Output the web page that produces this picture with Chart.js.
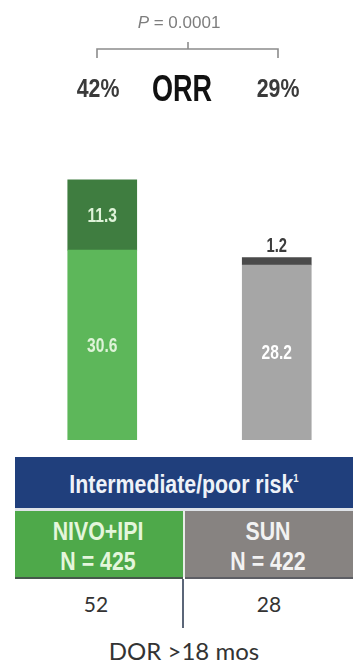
<!DOCTYPE html>
<html>
<head>
<meta charset="utf-8">
<script src="https://cdn.jsdelivr.net/npm/chart.js@4"></script>
<style>
    html, body { margin: 0; padding: 0; background: #fff; overflow: hidden; }
    body { width: 355px; height: 671px; position: relative; }
    .t { position: absolute; white-space: nowrap; line-height: 1; transform: translateX(-50%); }
    /* no narrow face installed, so squeeze the bold sans horizontally */
    .narrow { font-family: "Liberation Sans", Arial, sans-serif; font-weight: bold; transform: translateX(-50%) scaleX(0.82); }
    #chartBox { position: absolute; left: 15px; top: 0; width: 349px; height: 440px; }
    .cell { position: absolute; }
    sup { font-size: 0.45em; vertical-align: 0; position: relative; top: -0.9em; }
</style>
</head>
<body>

<div id="chartBox"><canvas id="orrChart"></canvas></div>

<!-- header: p value, bracket, ORR totals -->
<div class="t" id="pLabel" style="left:179px; top:13px; font:17px 'Liberation Sans', Arial, sans-serif; color:#7d7d7d;"></div>
<svg style="position:absolute; left:0; top:0;" width="355" height="70">
    <g stroke="#8c8c8c" stroke-width="1.6" fill="none">
        <polyline points="97,58 97,49 278,49 278,58" />
        <line x1="188" y1="42" x2="188" y2="49" />
    </g>
</svg>
<div class="t narrow" id="orrLeft" style="left:98px; top:75px; font-size:26px; color:#3a3a3a;"></div>
<div class="t narrow" style="left:182px; top:70px; font-size:33px; color:#111; transform:translateX(-50%) scaleX(0.82) scaleY(1.12); transform-origin:50% 0;">ORR</div>
<div class="t narrow" id="orrRight" style="left:278px; top:75px; font-size:26px; color:#3a3a3a;"></div>

<!-- risk group table -->
<div class="cell" style="left:15px; top:457px; width:338px; height:51px; background:#203f7c;"></div>
<div class="t narrow" style="left:184px; top:471px; font-size:26px; color:#eef2f8;">Intermediate/poor risk<sup>1</sup></div>
<div class="cell" style="left:15px; top:508px; width:338px; height:3px; background:#dfe3e8;"></div>
<div class="cell" style="left:15px; top:511px; width:168px; height:66px; background:#4ea94a; border-bottom:2px solid #44594a;"></div>
<div class="cell" style="left:183px; top:511px; width:2px; height:66px; background:#e8ece8;"></div>
<div class="cell" style="left:185px; top:511px; width:168px; height:66px; background:#878381; border-bottom:2px solid #5d5e64;"></div>
<div class="t narrow" id="armA" style="left:98px; top:518px; font-size:26px; color:#e4f6dc;"></div>
<div class="t narrow" id="nA" style="left:98px; top:548px; font-size:26px; color:#e4f6dc;"></div>
<div class="t narrow" id="armB" style="left:268px; top:518px; font-size:26px; color:#f2f2f2;"></div>
<div class="t narrow" id="nB" style="left:268px; top:548px; font-size:26px; color:#f2f2f2;"></div>
<div class="cell" style="left:182px; top:579px; width:2px; height:49px; background:#5b6678;"></div>
<div class="t" id="dorA" style="left:96px; top:591px; font:21px Lato, sans-serif; color:#333;"></div>
<div class="t" id="dorB" style="left:269px; top:591px; font:21px Lato, sans-serif; color:#333;"></div>
<div class="t" style="left:184px; top:636px; font:24px Lato, sans-serif; color:#333;">DOR &gt;18 mos</div>

<script>
const groups = ["NIVO+IPI", "SUN"]
const crValues = [11.3, 1.2]
const prValues = [30.6, 28.2]
const groupSizes = [425, 422]
const dorValues = [52, 28]
const pValue = "0.0001"

const prColors = ["#5db75a", "#a6a6a6"]
const crColors = ["#3f7d40", "#4a4a4a"]

const orrTotals = groups.map((g, i) => Math.round(crValues[i] + prValues[i]))

document.getElementById("pLabel").innerHTML = `<i>P</i> = ${pValue}`
document.getElementById("orrLeft").textContent = orrTotals[0] + "%"
document.getElementById("orrRight").textContent = orrTotals[1] + "%"
document.getElementById("armA").textContent = groups[0]
document.getElementById("armB").textContent = groups[1]
document.getElementById("nA").textContent = "N = " + groupSizes[0]
document.getElementById("nB").textContent = "N = " + groupSizes[1]
document.getElementById("dorA").textContent = dorValues[0]
document.getElementById("dorB").textContent = dorValues[1]

// condensed text on the canvas: shrink x around the anchor point
function narrowText(c, text, x, y) {
    c.save()
    c.translate(x, y)
    c.scale(0.82, 1.1)
    c.fillText(text, 0, 0)
    c.restore()
}

// value labels: inside each segment, or above the bar when the segment is too thin
const segmentLabels = {
    id: "segmentLabels",
    afterDatasetsDraw(chart) {
        const c = chart.ctx
        c.save()
        c.textAlign = "center"
        c.textBaseline = "middle"
        chart.data.datasets.forEach((ds, di) => {
            chart.getDatasetMeta(di).data.forEach((bar, i) => {
                const value = ds.data[i]
                const h = Math.abs(bar.base - bar.y)
                const label = value.toFixed(1)
                if (h < 20) {
                    c.font = "bold 18px 'Liberation Sans', Arial, sans-serif"
                    c.fillStyle = "#3c3c3c"
                    narrowText(c, label, bar.x, bar.y - 11)
                } else {
                    c.font = "bold 19px 'Liberation Sans', Arial, sans-serif"
                    c.fillStyle = i === 0 ? "#def3d8" : "#ffffff"
                    narrowText(c, label, bar.x, (bar.y + bar.base) / 2 + 1)
                }
            })
        })
        c.restore()
    }
}

const ctx = document.getElementById("orrChart").getContext("2d")
const orrChart = new Chart(ctx, {
    type: "bar",
    data: {
        labels: groups,
        datasets: [
            { label: "PR", data: prValues, backgroundColor: prColors, borderWidth: 0 },
            { label: "CR", data: crValues, backgroundColor: crColors, borderWidth: 0 }
        ]
    },
    options: {
        responsive: true,
        maintainAspectRatio: false,
        animation: false,
        layout: { padding: { top: 170, bottom: 0, left: 0, right: 0 } },
        barThickness: 69,
        scales: {
            x: { stacked: true, display: false },
            y: { stacked: true, display: false, min: 0, max: 43.5 }
        },
        plugins: {
            legend: { display: false },
            tooltip: { enabled: false }
        }
    },
    plugins: [segmentLabels]
})
</script>
</body>
</html>
